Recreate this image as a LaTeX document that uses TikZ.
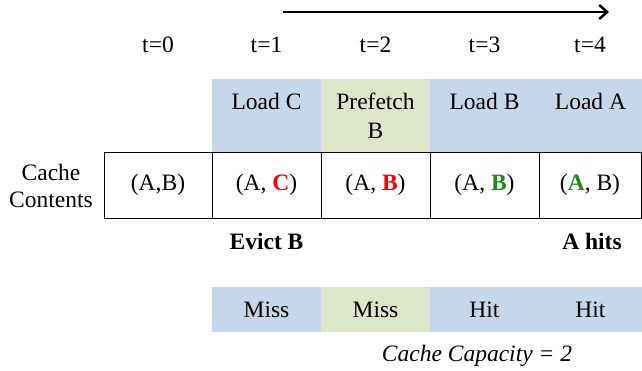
\documentclass[tikz,border=0pt]{standalone}
\usepackage{fontspec}
\setmainfont{Liberation Serif}
\usetikzlibrary{arrows.meta}
\definecolor{cblue}{HTML}{C6D7EA}
\definecolor{cgreen}{HTML}{DEE6CA}
\definecolor{hitgreen}{HTML}{1E8B1E}
\definecolor{missred}{HTML}{FF0000}
\begin{document}
\begin{tikzpicture}[x=1pt,y=-1pt,
  txt/.style={font=\fontsize{23.5}{29}\selectfont, inner sep=0pt, align=center},
  topbox/.style={txt, minimum height=73pt, draw=none},
  cellbox/.style={txt, draw=black, line width=0.9pt, minimum height=66pt},
  resbox/.style={txt, minimum height=45pt, draw=none},
  tlabel/.style={txt},
  note/.style={txt, font=\fontsize{23.5}{29}\selectfont\bfseries}]
\useasboundingbox (0,0) rectangle (642,371);
% time arrow
\coordinate (as) at (283,12);
\coordinate (ae) at (609,12);
\draw[line width=2.4pt, -{Straight Barb[length=8pt,width=14pt,line width=2.4pt]}] (as) -- (ae);
% time labels
\node[tlabel] (t0) at (158,45) {t=0};
\node[tlabel] (t1) at (266.5,45) {t=1};
\node[tlabel] (t2) at (375.5,45) {t=2};
\node[tlabel] (t3) at (484.5,45) {t=3};
\node[tlabel] (t4) at (590,45) {t=4};
% operation row
\node[topbox, fill=cblue, minimum width=109pt] (op1) at (266.5,115.5) {Load C\\\phantom{B}};
\node[topbox, fill=cgreen, minimum width=109pt] (op2) at (375.5,115.5) {Prefetch\\B};
\node[topbox, fill=cblue, minimum width=109pt] (op3) at (484.5,115.5) {Load B\\\phantom{B}};
\node[topbox, fill=cblue, minimum width=103pt] (op4) at (590.5,115.5) {Load A\\\phantom{B}};
% cache contents row
\node[txt, align=center, font=\fontsize{23.5}{27}\selectfont] (cc) at (51,186) {Cache\\Contents};
\node[cellbox, minimum width=108pt] (c0) at (158,185) {(A,B)};
\node[cellbox, minimum width=109pt] (c1) at (266.5,185) {(A, \textcolor{missred}{\textbf{C}})};
\node[cellbox, minimum width=109pt] (c2) at (375.5,185) {(A, \textcolor{missred}{\textbf{B}})};
\node[cellbox, minimum width=109pt] (c3) at (484.5,185) {(A, \textcolor{hitgreen}{\textbf{B}})};
\node[cellbox, minimum width=102pt] (c4) at (590,185) {(\textcolor{hitgreen}{\textbf{A}}, B)};
% notes
\node[note] (n1) at (266.5,241) {Evict B};
\node[note] (n2) at (592,241) {A hits};
% result row
\node[resbox, fill=cblue, minimum width=109pt] (r1) at (266.5,309.5) {Miss};
\node[resbox, fill=cgreen, minimum width=109pt] (r2) at (375.5,309.5) {Miss};
\node[resbox, fill=cblue, minimum width=109pt] (r3) at (484.5,309.5) {Hit};
\node[resbox, fill=cblue, minimum width=103pt] (r4) at (590.5,309.5) {Hit};
% capacity
\node[txt, font=\fontsize{23.5}{29}\selectfont\itshape] (cap) at (477,356) {Cache Capacity = 2};
\end{tikzpicture}
\end{document}
